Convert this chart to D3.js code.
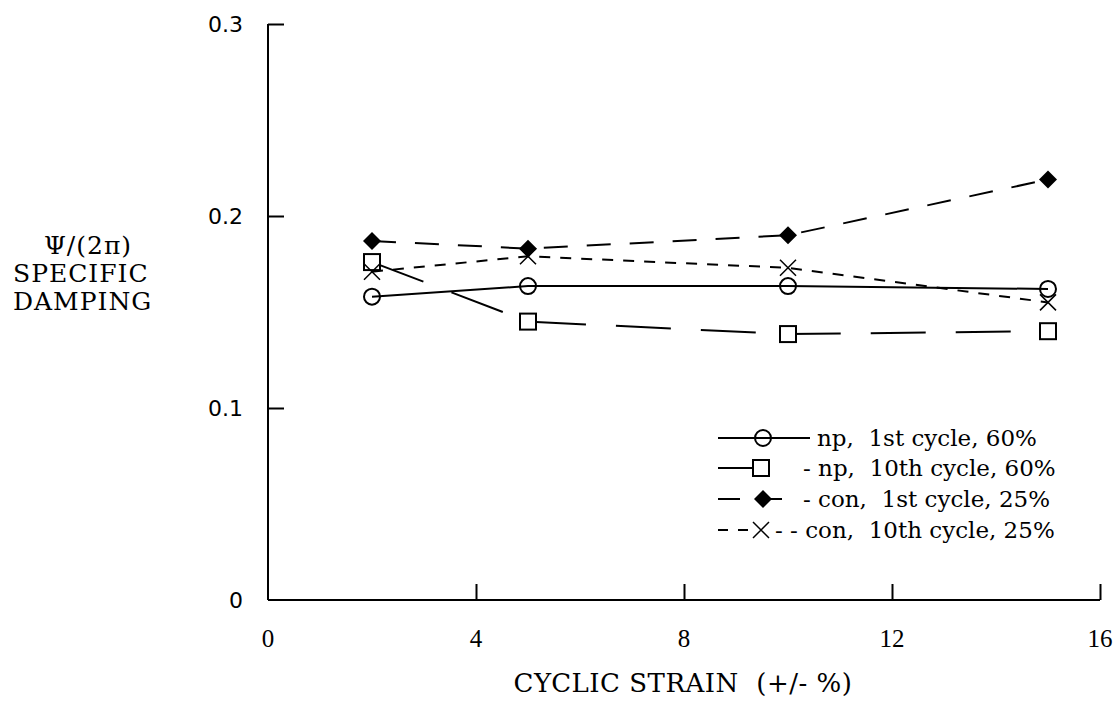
<!DOCTYPE html>
<html>
<head>
<meta charset="utf-8">
<script src="https://cdn.jsdelivr.net/npm/d3@7"></script>
<style>
	body { margin: 0; background: #fff; }
	text { font-family: "DejaVu Serif", serif; fill: #000; white-space: pre; }
	text.tk { font-family: "Liberation Serif", serif; }
	text.ytk { font-family: "DejaVu Sans", sans-serif; }
</style>
</head>
<body>
<svg id="chart"></svg>
<script>
// strain values (+/- %)
const strains = [2, 5, 10, 15];
// specific damping
const np1st = [0.158, 0.1635, 0.1635, 0.162];
const np10th = [0.176, 0.145, 0.1385, 0.140];
const con1st = [0.187, 0.183, 0.190, 0.219];
const con10th = [0.171, 0.179, 0.173, 0.155];
const xTicks = [0, 4, 8, 12, 16];
const yTicks = [0, 0.1, 0.2, 0.3];
const legendLabels = ["np,  1st cycle, 60%", "- np,  10th cycle, 60%", "- con,  1st cycle, 25%", "- - con,  10th cycle, 25%"];

const width = 1115, height = 701;
const svg = d3.select("#chart").attr("width", width).attr("height", height);

const x = d3.scaleLinear().domain([0, 16]).range([268, 1100]);
const y = d3.scaleLinear().domain([0, 0.3]).range([600, 24]);

//axes: ticks point inward
svg.append("g")
	.attr("transform", `translate(0, ${y(0)})`)
	.call(d3.axisBottom(x).tickValues(xTicks.slice(1)).tickSize(-16).tickFormat(""))
	.call(g => g.select(".domain").attr("d", `M${x(0)},0H${x(16)}`))
	.selectAll("line,path").attr("stroke", "#000").attr("stroke-width", 2);
svg.append("g")
	.attr("transform", `translate(${x(0)}, 0)`)
	.call(d3.axisLeft(y).tickValues(yTicks.slice(1)).tickSize(-16).tickFormat(""))
	.call(g => g.select(".domain").attr("d", `M0,${y(0)}V${y(0.3)}`))
	.selectAll("line,path").attr("stroke", "#000").attr("stroke-width", 2);

svg.selectAll(".xlab").data(xTicks).enter().append("text")
	.attr("class", "tk")
	.attr("x", d => x(d)).attr("y", 647)
	.attr("text-anchor", "middle").attr("font-size", 25)
	.text(d => d);
svg.selectAll(".ylab").data(yTicks).enter().append("text")
	.attr("class", "ytk")
	.attr("x", 243).attr("y", d => y(d) + 8)
	.attr("text-anchor", "end").attr("font-size", 22)
	.text(d => d === 0 ? "0" : d3.format(".1f")(d));

svg.append("text").attr("x", 683).attr("y", 692).attr("text-anchor", "middle")
	.attr("font-size", 26).attr("letter-spacing", 0.5).text("CYCLIC STRAIN  (+/- %)");
const ylab = svg.append("text").attr("font-size", 25).attr("letter-spacing", 1);
ylab.append("tspan").attr("x", 88).attr("y", 254).attr("text-anchor", "middle").text("Ψ/(2π)");
ylab.append("tspan").attr("x", 13).attr("y", 282).text("SPECIFIC");
ylab.append("tspan").attr("x", 13).attr("y", 310).text("DAMPING");

const series = [
	{ values: np1st, dash: null, marker: "circle" },
	{ values: np10th, dash: "55,30", marker: "square" },
	{ values: con1st, dash: "24,19", marker: "diamond" },
	{ values: con10th, dash: "11,10", marker: "cross" }
];

function drawMarker(g, type, cx, cy) {
	if (type === "circle") {
		g.append("circle").attr("cx", cx).attr("cy", cy).attr("r", 8)
			.attr("fill", "none").attr("stroke", "#000").attr("stroke-width", 2);
	} else if (type === "square") {
		g.append("rect").attr("x", cx - 8).attr("y", cy - 8).attr("width", 16).attr("height", 16)
			.attr("fill", "#fff").attr("stroke", "#000").attr("stroke-width", 2);
	} else if (type === "diamond") {
		g.append("path").attr("d", `M${cx},${cy - 9}L${cx + 9},${cy}L${cx},${cy + 9}L${cx - 9},${cy}Z`)
			.attr("fill", "#000");
	} else {
		g.append("path").attr("d", `M${cx - 8},${cy - 8}L${cx + 8},${cy + 8}M${cx + 8},${cy - 8}L${cx - 8},${cy + 8}`)
			.attr("stroke", "#000").attr("stroke-width", 1.5);
	}
}

const line = d3.line().x((d, i) => x(strains[i])).y(d => y(d));
series.forEach(s => {
	svg.append("path").datum(s.values)
		.attr("fill", "none").attr("stroke", "#000").attr("stroke-width", 2)
		.attr("stroke-dasharray", s.dash)
		.attr("d", line);
});
series.forEach(s => {
	const g = svg.append("g");
	s.values.forEach((v, i) => drawMarker(g, s.marker, x(strains[i]), y(v)));
});

// legend
const lg = svg.append("g");
const rows = [438, 468, 499, 530];
const seg = (x1, x2, yy, dash) => lg.append("line").attr("x1", x1).attr("x2", x2).attr("y1", yy).attr("y2", yy)
	.attr("stroke", "#000").attr("stroke-width", 2).attr("stroke-dasharray", dash);
seg(718, 810, rows[0], null);
drawMarker(lg, "circle", 763, rows[0]);
seg(718, 753, rows[1], null);
drawMarker(lg, "square", 761, rows[1]);
seg(718, 740, rows[2], null);
seg(755, 782, rows[2], null);
drawMarker(lg, "diamond", 763, rows[2]);
seg(718, 750, rows[3], "10,10");
drawMarker(lg, "cross", 761, rows[3]);
const textX = [817, 803, 803, 775];
legendLabels.forEach((t, i) => {
	lg.append("text").attr("x", textX[i]).attr("y", rows[i] + 8).attr("font-size", 23).text(t);
});
</script>
</body>
</html>
